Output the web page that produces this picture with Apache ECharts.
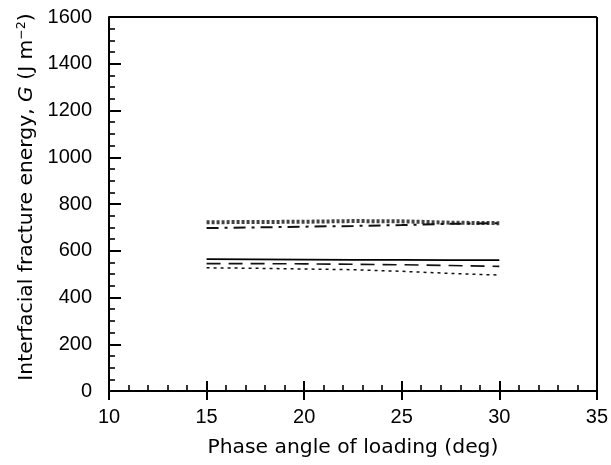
<!DOCTYPE html>
<html><head><meta charset="utf-8">
<script src="https://cdn.jsdelivr.net/npm/echarts@6/dist/echarts.min.js"></script>
<style>html,body{margin:0;padding:0;background:#fff}#c{width:611px;height:465px}</style>
</head><body><div id="c"></div>
<script>
var phaseAngles = [15, 17.5, 20, 22.5, 25, 27.5, 30];
var seriesCross   = [722, 723, 724, 727, 726, 720, 718];
var seriesDashDot = [697, 700, 703, 706, 710, 715, 718];
var seriesSolid   = [564, 563, 562, 561, 561, 560, 560];
var seriesDashed  = [545, 545, 544, 542, 540, 537, 533];
var seriesDotted  = [527, 525, 522, 519, 512, 503, 496];

function pairs(v){ return phaseAngles.map(function(x,i){ return [x, v[i]]; }); }
var FL = '"Liberation Sans", Arial, sans-serif';
var FT = '"DejaVu Sans", sans-serif';
var chart = echarts.init(document.getElementById('c'));
function mk(data, style){
  return {type:'line', data: pairs(data), symbol:'none', lineStyle: style, silent:true, animation:false};
}
var lbl = {fontFamily:FL, fontSize:20, color:'#000'};
chart.setOption({
  animation:false,
  grid:{left:109, right:14, top:17, bottom:74},
  xAxis:[{
    type:'value', min:10, max:35, interval:5,
    name:'Phase angle of loading (deg)', nameLocation:'middle', nameGap:47,
    nameTextStyle:{fontFamily:FT, fontSize:20.3, color:'#000'},
    axisLine:{lineStyle:{color:'#000', width:2}},
    axisTick:{inside:true, length:10, lineStyle:{color:'#000', width:2}},
    minorTick:{show:true, splitNumber:5, length:6, lineStyle:{color:'#000', width:1.6}},
    axisLabel:Object.assign({margin:16}, lbl),
    splitLine:{show:false}
  },{
    type:'value', min:10, max:35, interval:5, position:'bottom',
    axisLine:{show:false}, axisLabel:{show:false},
    axisTick:{inside:false, length:9, lineStyle:{color:'#000', width:2}},
    splitLine:{show:false}
  }],
  yAxis:{
    type:'value', min:0, max:1600, interval:200,
    name:'Interfacial fracture energy, {i|G} (J m{s|−2})', nameLocation:'middle', nameGap:71,
    nameTextStyle:{fontFamily:FT, fontSize:20.3, color:'#000', padding:[0,0,0,14],
      rich:{i:{fontFamily:FT, fontSize:20.3, fontStyle:'italic'}, s:{fontFamily:FT, fontSize:12.5, verticalAlign:'top', padding:[0,0,9,0]}}},
    axisLine:{lineStyle:{color:'#000', width:2}},
    axisTick:{inside:true, length:12, lineStyle:{color:'#000', width:2}},
    minorTick:{show:true, splitNumber:4, length:6, lineStyle:{color:'#000', width:1.6}},
    axisLabel:Object.assign({margin:17, formatter:function(v){return String(v);}}, lbl),
    splitLine:{show:false}
  },
  series:[
    mk(seriesCross,   {color:'#444', width:4, type:[3,2]}),
    mk(seriesDashDot, {color:'#111', width:2, type:[12,6,3,6]}),
    mk(seriesSolid,   {color:'#000', width:1.6, type:'solid'}),
    mk(seriesDashed,  {color:'#111', width:1.6, type:[14,8]}),
    mk(seriesDotted,  {color:'#111', width:1.5, type:[3,4]}),
    {type:'line', data:[], markLine:{silent:true, symbol:'none', animation:false,
      lineStyle:{color:'#000', width:2, type:'solid'}, label:{show:false},
      data:[[{coord:[10,1600]},{coord:[35,1600]}],[{coord:[35,0]},{coord:[35,1600]}]]}}
  ]
});
</script></body></html>
